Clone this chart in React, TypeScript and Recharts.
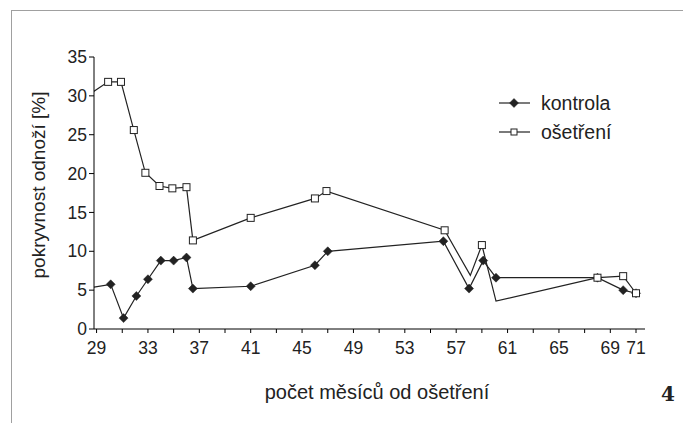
import { LineChart, Line, XAxis, YAxis } from 'recharts';

// měsíce od ošetření a pokryvnost [%] odečtené z grafu
// první bod (27) leží mimo osu, čára z něj je oříznutá na levém okraji
const kontrolaMesice = [27, 30.1, 31.1, 32.1, 33, 34, 35, 36, 36.5, 41, 46, 47, 56, 58, 59.1, 60.1, 68, 70, 71];
const kontrolaHodnoty = [4.9, 5.75, 1.4, 4.25, 6.4, 8.8, 8.8, 9.2, 5.2, 5.5, 8.2, 10.0, 11.3, 5.2, 8.8, 6.6, 6.6, 5.0, 4.6];
const osetreniMesice = [27, 29.9, 30.9, 31.9, 32.8, 33.9, 34.9, 36, 36.5, 41, 46, 46.9, 56.1, 58.1, 59, 60.1, 68, 70, 71];
const osetreniHodnoty = [28.6, 31.8, 31.8, 25.6, 20.1, 18.4, 18.1, 18.25, 11.4, 14.3, 16.8, 17.75, 12.7, 6.9, 10.8, 3.6, 6.6, 6.8, 4.6];
// body ošetření bez značky
const osetreniBezZnacky = [58.1, 60.1];

const xTicks = [29, 31, 33, 35, 37, 39, 41, 43, 45, 47, 49, 51, 53, 55, 57, 59, 61, 63, 65, 67, 69, 71];
const xPopisky = [29, 33, 37, 41, 45, 49, 53, 57, 61, 65, 69, 71];
const yTicks = [0, 5, 10, 15, 20, 25, 30, 35];

const X_MIN = 28.8;
const X_MAX = 71.7;

const kontrolaData = kontrolaMesice.map((m, i) => ({ mesic: m, hodnota: kontrolaHodnoty[i] }));
const osetreniData = osetreniMesice.map((m, i) => ({ mesic: m, hodnota: osetreniHodnoty[i] }));

const font = '"Liberation Sans", Arial, sans-serif';
const serif = '"DejaVu Serif", "Liberation Serif", serif';
const ink = '#222';

const Diamond = ({ cx, cy }: { cx: number; cy: number }) => (
  <polygon points={`${cx},${cy - 4.5} ${cx + 4.5},${cy} ${cx},${cy + 4.5} ${cx - 4.5},${cy}`} fill={ink} stroke={ink} strokeWidth={0.5} />
);

const Square = ({ cx, cy }: { cx: number; cy: number }) => (
  <rect x={cx - 3.5} y={cy - 3.5} width={7} height={7} fill="#fff" stroke={ink} strokeWidth={1} />
);

const kontrolaDot = (props: any) => {
  const { cx, cy, payload, index } = props;
  if (payload.mesic < X_MIN) return <g key={`k-${index}`} />;
  return <Diamond key={`k-${index}`} cx={cx} cy={cy} />;
};

const osetreniDot = (props: any) => {
  const { cx, cy, payload, index } = props;
  if (payload.mesic < X_MIN || osetreniBezZnacky.includes(payload.mesic)) return <g key={`o-${index}`} />;
  return <Square key={`o-${index}`} cx={cx} cy={cy} />;
};

export default function App() {
  return (
    <div style={{ position: 'fixed', left: 0, top: 0, width: 683, height: 423, background: '#fff', fontFamily: font }}>
      <div style={{ position: 'absolute', left: 11, top: 10, width: 672, height: 0, borderTop: '1.5px solid #a0a0a0' }} />
      <div style={{ position: 'absolute', left: 11, top: 10, width: 0, height: 413, borderLeft: '1.5px solid #a0a0a0' }} />
      <LineChart width={683} height={423} margin={{ top: 57, right: 38, bottom: 64, left: 54 }}>
        <XAxis
          type="number"
          dataKey="mesic"
          domain={[X_MIN, X_MAX]}
          allowDataOverflow
          ticks={xTicks}
          interval={0}
          tickFormatter={(v: number) => (xPopisky.includes(v) ? String(v) : '')}
          height={30}
          tickSize={4}
          tickMargin={9}
          stroke="#000"
          tick={{ fill: ink, fontSize: 17.5, fontFamily: font }}
        />
        <YAxis
          type="number"
          domain={[0, 35]}
          ticks={yTicks}
          interval={0}
          width={40}
          tickSize={5}
          tickMargin={2}
          stroke="#000"
          tick={{ fill: ink, fontSize: 17.5, fontFamily: font }}
        />
        <Line
          data={kontrolaData}
          dataKey="hodnota"
          name="kontrola"
          stroke={ink}
          strokeWidth={1.2}
          dot={kontrolaDot}
          activeDot={false}
          isAnimationActive={false}
        />
        <Line
          data={osetreniData}
          dataKey="hodnota"
          name="ošetření"
          stroke={ink}
          strokeWidth={1.2}
          dot={osetreniDot}
          activeDot={false}
          isAnimationActive={false}
        />
      </LineChart>
      <svg width={683} height={423} style={{ position: 'absolute', left: 0, top: 0, pointerEvents: 'none' }}>
        <text x={38} y={185} transform="rotate(-90 38 185)" textAnchor="middle" dominantBaseline="central" fontSize={19} fill={ink} style={{ fontFamily: font }}>
          pokryvnost odnoží [%]
        </text>
        <text x={377} y={399} textAnchor="middle" fontSize={20} fill={ink} style={{ fontFamily: font }}>
          počet měsíců od ošetření
        </text>
        <text x={668} y={401} textAnchor="middle" fontSize={20} fontWeight="bold" fill={ink} style={{ fontFamily: serif }}>
          4
        </text>
        <line x1={499} y1={103} x2={530} y2={103} stroke={ink} strokeWidth={1.2} />
        <Diamond cx={514} cy={103} />
        <text x={541} y={103} dominantBaseline="central" fontSize={19.5} fill={ink} style={{ fontFamily: font }}>kontrola</text>
        <line x1={499} y1={132} x2={530} y2={132} stroke={ink} strokeWidth={1.2} />
        <rect x={511} y={129} width={6} height={6} fill="#fff" stroke={ink} strokeWidth={1} />
        <text x={541} y={132} dominantBaseline="central" fontSize={19.5} fill={ink} style={{ fontFamily: font }}>ošetření</text>
      </svg>
    </div>
  );
}
